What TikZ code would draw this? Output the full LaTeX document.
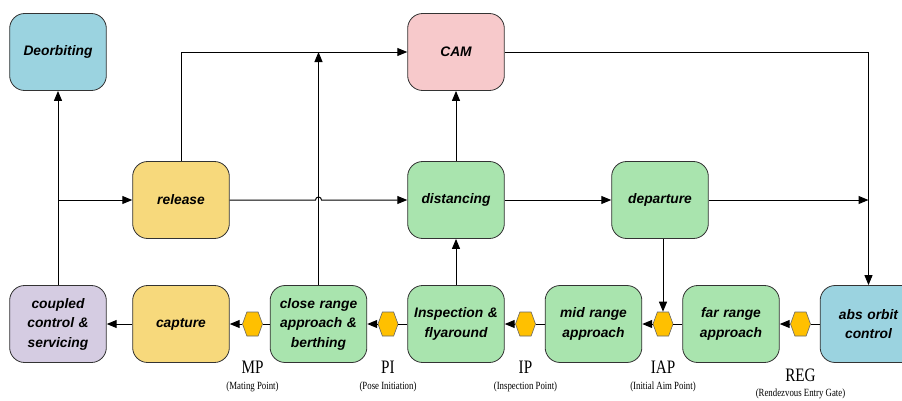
\documentclass[tikz,border=0pt]{standalone}
\usepackage{xcolor}
\usepackage{fontspec}
\setsansfont{Liberation Sans}
\newfontfamily\gatefont{Liberation Serif}[FakeStretch=0.8]
\usepackage{tikz}
\usetikzlibrary{positioning,shapes.symbols,arrows.meta}

\definecolor{phaseblue}{HTML}{9BD3E0}
\definecolor{phasered}{HTML}{F7C9CB}
\definecolor{phaseyellow}{HTML}{F7D97C}
\definecolor{phasegreen}{HTML}{A9E4AE}
\definecolor{phasepurple}{HTML}{D5CCE2}
\definecolor{gateorange}{HTML}{FFC000}

\tikzstyle{phase} = [rectangle, rounded corners=15pt, minimum width=92pt, minimum height=77pt, text centered, text width=90pt, draw=black!80, line width=0.8pt, font=\sffamily\bfseries\itshape\fontsize{13.8}{19.5}\selectfont]
\tikzstyle{bluephase} = [phase, fill=phaseblue]
\tikzstyle{redphase} = [phase, fill=phasered]
\tikzstyle{yellowphase} = [phase, fill=phaseyellow]
\tikzstyle{greenphase} = [phase, fill=phasegreen]
\tikzstyle{purplephase} = [phase, fill=phasepurple]
\tikzstyle{gate} = [signal, signal to=west and east, signal pointer angle=140, minimum width=20pt, minimum height=24pt, inner sep=0pt, draw=black!60, line width=0.6pt, fill=gateorange]
\tikzstyle{gatename} = [font=\gatefont\fontsize{19}{19}\selectfont]
\tikzstyle{gatenote} = [font=\gatefont\fontsize{11}{11}\selectfont]
\tikzstyle{line} = [line width=1pt]
\tikzstyle{arrow} = [line width=1pt,->,>={Triangle[length=10pt,width=8pt]}]

\begin{document}
\begin{tikzpicture}[x=1pt, y=1pt, node distance=137.5pt]
    \useasboundingbox (0,0) rectangle (902,-400);

    % Phase nodes
    \node (capture) [yellowphase] at (181,-324) {capture};
    \node (coupled) [purplephase, node distance=123pt, left of=capture] {coupled\\control \&\\servicing};
    \node (closerange) [greenphase, right of=capture] {close range\\approach \&\\berthing};
    \node (inspection) [greenphase, right of=closerange] {Inspection \&\\flyaround};
    \node (midrange) [greenphase, right of=inspection] {mid range\\approach};
    \node (farrange) [greenphase, right of=midrange] {far range\\approach};
    \node (absorbit) [bluephase, right of=farrange] {abs orbit\\control};
    \node (release) [yellowphase, node distance=124pt, above of=capture] {release};
    \node (distancing) [greenphase, node distance=124pt, above of=inspection] {distancing};
    \node (departure) [greenphase, node distance=204pt, right of=distancing] {departure};
    \node (cam) [redphase, node distance=148pt, above of=distancing] {CAM};
    \node (deorbit) [bluephase, node distance=272pt, above of=coupled] {Deorbiting};

    % Gates
    \node (mp) [gate, node distance=66pt, left of=closerange] {};
    \node (pi) [gate, node distance=68pt, left of=inspection] {};
    \node (ip) [gate, node distance=68pt, left of=midrange] {};
    \node (iap) [gate, node distance=68pt, left of=farrange] {};
    \node (reg) [gate, node distance=68pt, left of=absorbit] {};

    % Gate labels
    \node (mpname) [gatename, node distance=43pt, below of=mp] {MP};
    \node (mpnote) [gatenote, node distance=63pt, below of=mp] {(Mating Point)};
    \node (piname) [gatename, node distance=43pt, below of=pi] {PI};
    \node (pinote) [gatenote, node distance=63pt, below of=pi] {(Pose Initiation)};
    \node (ipname) [gatename, node distance=43pt, below of=ip] {IP};
    \node (ipnote) [gatenote, node distance=63pt, below of=ip] {(Inspection Point)};
    \node (iapname) [gatename, node distance=43pt, below of=iap] {IAP};
    \node (iapnote) [gatenote, node distance=63pt, below of=iap] {(Initial Aim Point)};
    \node (regname) [gatename, node distance=51pt, below of=reg] {REG};
    \node (regnote) [gatenote, node distance=70pt, below of=reg] {(Rendezvous Entry Gate)};

    % Approach chain
    \draw [line] (absorbit) -- (reg);
    \draw [arrow] (reg) -- (farrange);
    \draw [line] (farrange) -- (iap);
    \draw [arrow] (iap) -- (midrange);
    \draw [line] (midrange) -- (ip);
    \draw [arrow] (ip) -- (inspection);
    \draw [line] (inspection) -- (pi);
    \draw [arrow] (pi) -- (closerange);
    \draw [line] (closerange) -- (mp);
    \draw [arrow] (mp) -- (capture);
    \draw [arrow] (capture) -- (coupled);

    % Upper arrows
    \coordinate (hop) at (closerange.north |- release.east);
    \coordinate (branch) at (coupled.north |- release.west);
    \draw [arrow] (coupled) -- (deorbit);
    \draw [arrow] (branch) -- (release);
    \draw [arrow] (release) |- (cam);
    \draw [arrow] (closerange) -- (closerange |- cam);
    \draw [arrow] (release.east) -- ([xshift=-3pt]hop) arc [start angle=180, end angle=0, radius=3pt] -- (distancing.west);
    \draw [arrow] (inspection) -- (distancing);
    \draw [arrow] (distancing) -- (cam);
    \draw [arrow] (distancing) -- (departure);
    \draw [arrow] (departure) -- (departure -| absorbit);
    \draw [arrow] (cam) -| (absorbit);
    \draw [arrow] (departure.south -| iap) -- (iap.north);
\end{tikzpicture}
\end{document}
